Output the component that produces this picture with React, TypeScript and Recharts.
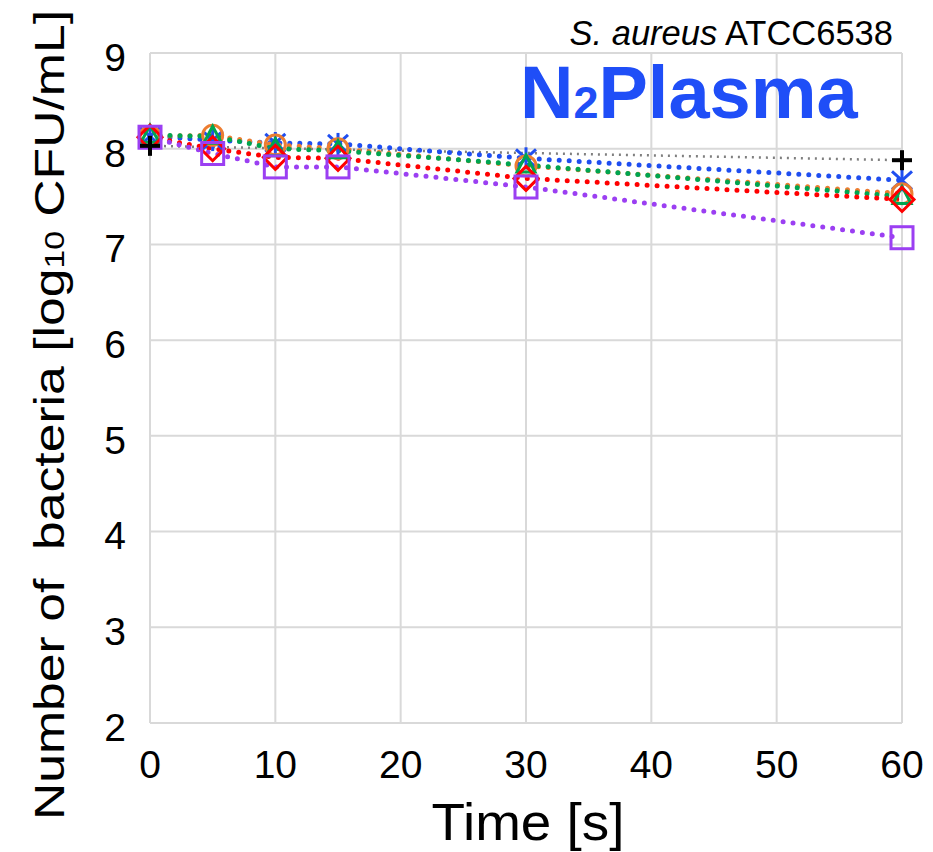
import { CartesianGrid, Line, LineChart, XAxis, YAxis } from "recharts";

const times = [0, 5, 10, 15, 30, 60];
// the untreated control was only counted at the start and the end
const control = [8.03, null, null, null, null, 7.88];
const seriesBlue = [8.13, 8.09, 8.06, 8.05, 7.9, 7.67];
const seriesOrange = [8.13, 8.14, 8.04, 8.0, 7.82, 7.53];
const seriesGreen = [8.14, 8.13, 8.0, 7.98, 7.83, 7.5];
const seriesRed = [8.12, 8.0, 7.91, 7.9, 7.69, 7.47];
const seriesPurple = [8.12, 7.95, 7.81, 7.81, 7.6, 7.07];

const xTicks = [0, 10, 20, 30, 40, 50, 60];
const yTicks = [2, 3, 4, 5, 6, 7, 8, 9];

const data = times.map((t, i) => ({
  t,
  control: control[i],
  blue: seriesBlue[i],
  orange: seriesOrange[i],
  green: seriesGreen[i],
  red: seriesRed[i],
  purple: seriesPurple[i],
}));

const FONT = "'Liberation Sans', Arial, sans-serif";

type Kind = "plus" | "star" | "circle" | "triangle" | "diamond" | "square";

function Marker({ cx, cy, kind, color }: { cx: number; cy: number; kind: Kind; color: string }) {
  const sw = 3;
  if (kind === "plus") {
    return (
      <g stroke={color} strokeWidth={4}>
        <line x1={cx - 10} y1={cy} x2={cx + 10} y2={cy} />
        <line x1={cx} y1={cy - 10} x2={cx} y2={cy + 10} />
      </g>
    );
  }
  if (kind === "star") {
    return (
      <g stroke={color} strokeWidth={sw}>
        <line x1={cx - 10} y1={cy - 9} x2={cx + 10} y2={cy + 9} />
        <line x1={cx - 10} y1={cy + 9} x2={cx + 10} y2={cy - 9} />
        <line x1={cx} y1={cy - 11} x2={cx} y2={cy + 11} />
      </g>
    );
  }
  if (kind === "circle") {
    return <circle cx={cx} cy={cy} r={10} fill="none" stroke={color} strokeWidth={sw} />;
  }
  if (kind === "triangle") {
    return (
      <polygon
        points={`${cx},${cy - 10} ${cx + 9},${cy + 7} ${cx - 9},${cy + 7}`}
        fill="none"
        stroke={color}
        strokeWidth={sw}
      />
    );
  }
  if (kind === "diamond") {
    return (
      <polygon
        points={`${cx},${cy - 12} ${cx + 12},${cy} ${cx},${cy + 12} ${cx - 12},${cy}`}
        fill="none"
        stroke={color}
        strokeWidth={sw}
      />
    );
  }
  return (
    <rect x={cx - 11} y={cy - 11} width={22} height={22} fill="none" stroke={color} strokeWidth={sw} />
  );
}

function dotFor(kind: Kind, color: string) {
  return (props: any) => {
    if (props.value == null || props.cy == null) return <g key={`${kind}-${props.index}`} />;
    return <Marker key={`${kind}-${props.index}`} cx={props.cx} cy={props.cy} kind={kind} color={color} />;
  };
}

const series: { key: string; color: string; kind: Kind }[] = [
  { key: "blue", color: "#1f4ef0", kind: "star" },
  { key: "orange", color: "#ed7d31", kind: "circle" },
  { key: "green", color: "#00a550", kind: "triangle" },
  { key: "red", color: "#ff0000", kind: "diamond" },
  { key: "purple", color: "#9b3ff2", kind: "square" },
];

export default function App() {
  return (
    <div style={{ position: "relative", width: 933, height: 852, background: "#fff" }}>
      <style>{"body{margin:0}"}</style>
      <LineChart width={933} height={852} data={data} margin={{ top: 53, right: 31, bottom: 0, left: 0 }}>
        <CartesianGrid stroke="#d9d9d9" strokeWidth={2} />
        <XAxis
          dataKey="t"
          type="number"
          domain={[0, 60]}
          ticks={xTicks}
          height={129}
          axisLine={false}
          tickLine={false}
          tickMargin={21}
          tick={{ fill: "#000", fontSize: 39, fontFamily: FONT }}
        />
        <YAxis
          type="number"
          domain={[2, 9]}
          ticks={yTicks}
          width={150}
          axisLine={false}
          tickLine={false}
          tickMargin={18}
          tick={{ fill: "#000", fontSize: 39, fontFamily: FONT, dy: 4 }}
        />
        <Line
          dataKey="control"
          stroke="#7f7f7f"
          strokeWidth={2.5}
          strokeDasharray="2 5"
          connectNulls
          dot={false}
          activeDot={false}
          isAnimationActive={false}
        />
        {series.map((s) => (
          <Line
            key={s.key}
            dataKey={s.key}
            stroke={s.color}
            strokeWidth={5}
            strokeDasharray="0 10"
            strokeLinecap="round"
            dot={dotFor(s.kind, s.color)}
            activeDot={false}
            isAnimationActive={false}
          />
        ))}
        <Line
          dataKey="control"
          stroke="none"
          connectNulls
          dot={dotFor("plus", "#000")}
          activeDot={false}
          isAnimationActive={false}
        />
      </LineChart>
      <svg
        width={933}
        height={852}
        style={{ position: "absolute", left: 0, top: 0, pointerEvents: "none" }}
        fontFamily={FONT}
      >
        <text x={893} y={45} textAnchor="end" fontSize={34.5} fill="#000">
          <tspan fontStyle="italic">S. aureus</tspan> ATCC6538
        </text>
        <text x={520} y={118} fontSize={74} fontWeight="bold" fill="#1f4ef7">
          N<tspan fontSize={45}>2</tspan>Plasma
        </text>
        <text
          x={528}
          y={840}
          textAnchor="middle"
          fontSize={52}
          fill="#000"
          textLength={193}
          lengthAdjust="spacingAndGlyphs"
        >
          Time [s]
        </text>
        <text
          transform="translate(64,415) rotate(-90)"
          textAnchor="middle"
          fontSize={43}
          fill="#000"
          textLength={810}
          lengthAdjust="spacingAndGlyphs"
          style={{ whiteSpace: "pre" }}
        >
          Number of  bacteria [log<tspan fontSize={28}>10</tspan> CFU/mL]
        </text>
      </svg>
    </div>
  );
}
